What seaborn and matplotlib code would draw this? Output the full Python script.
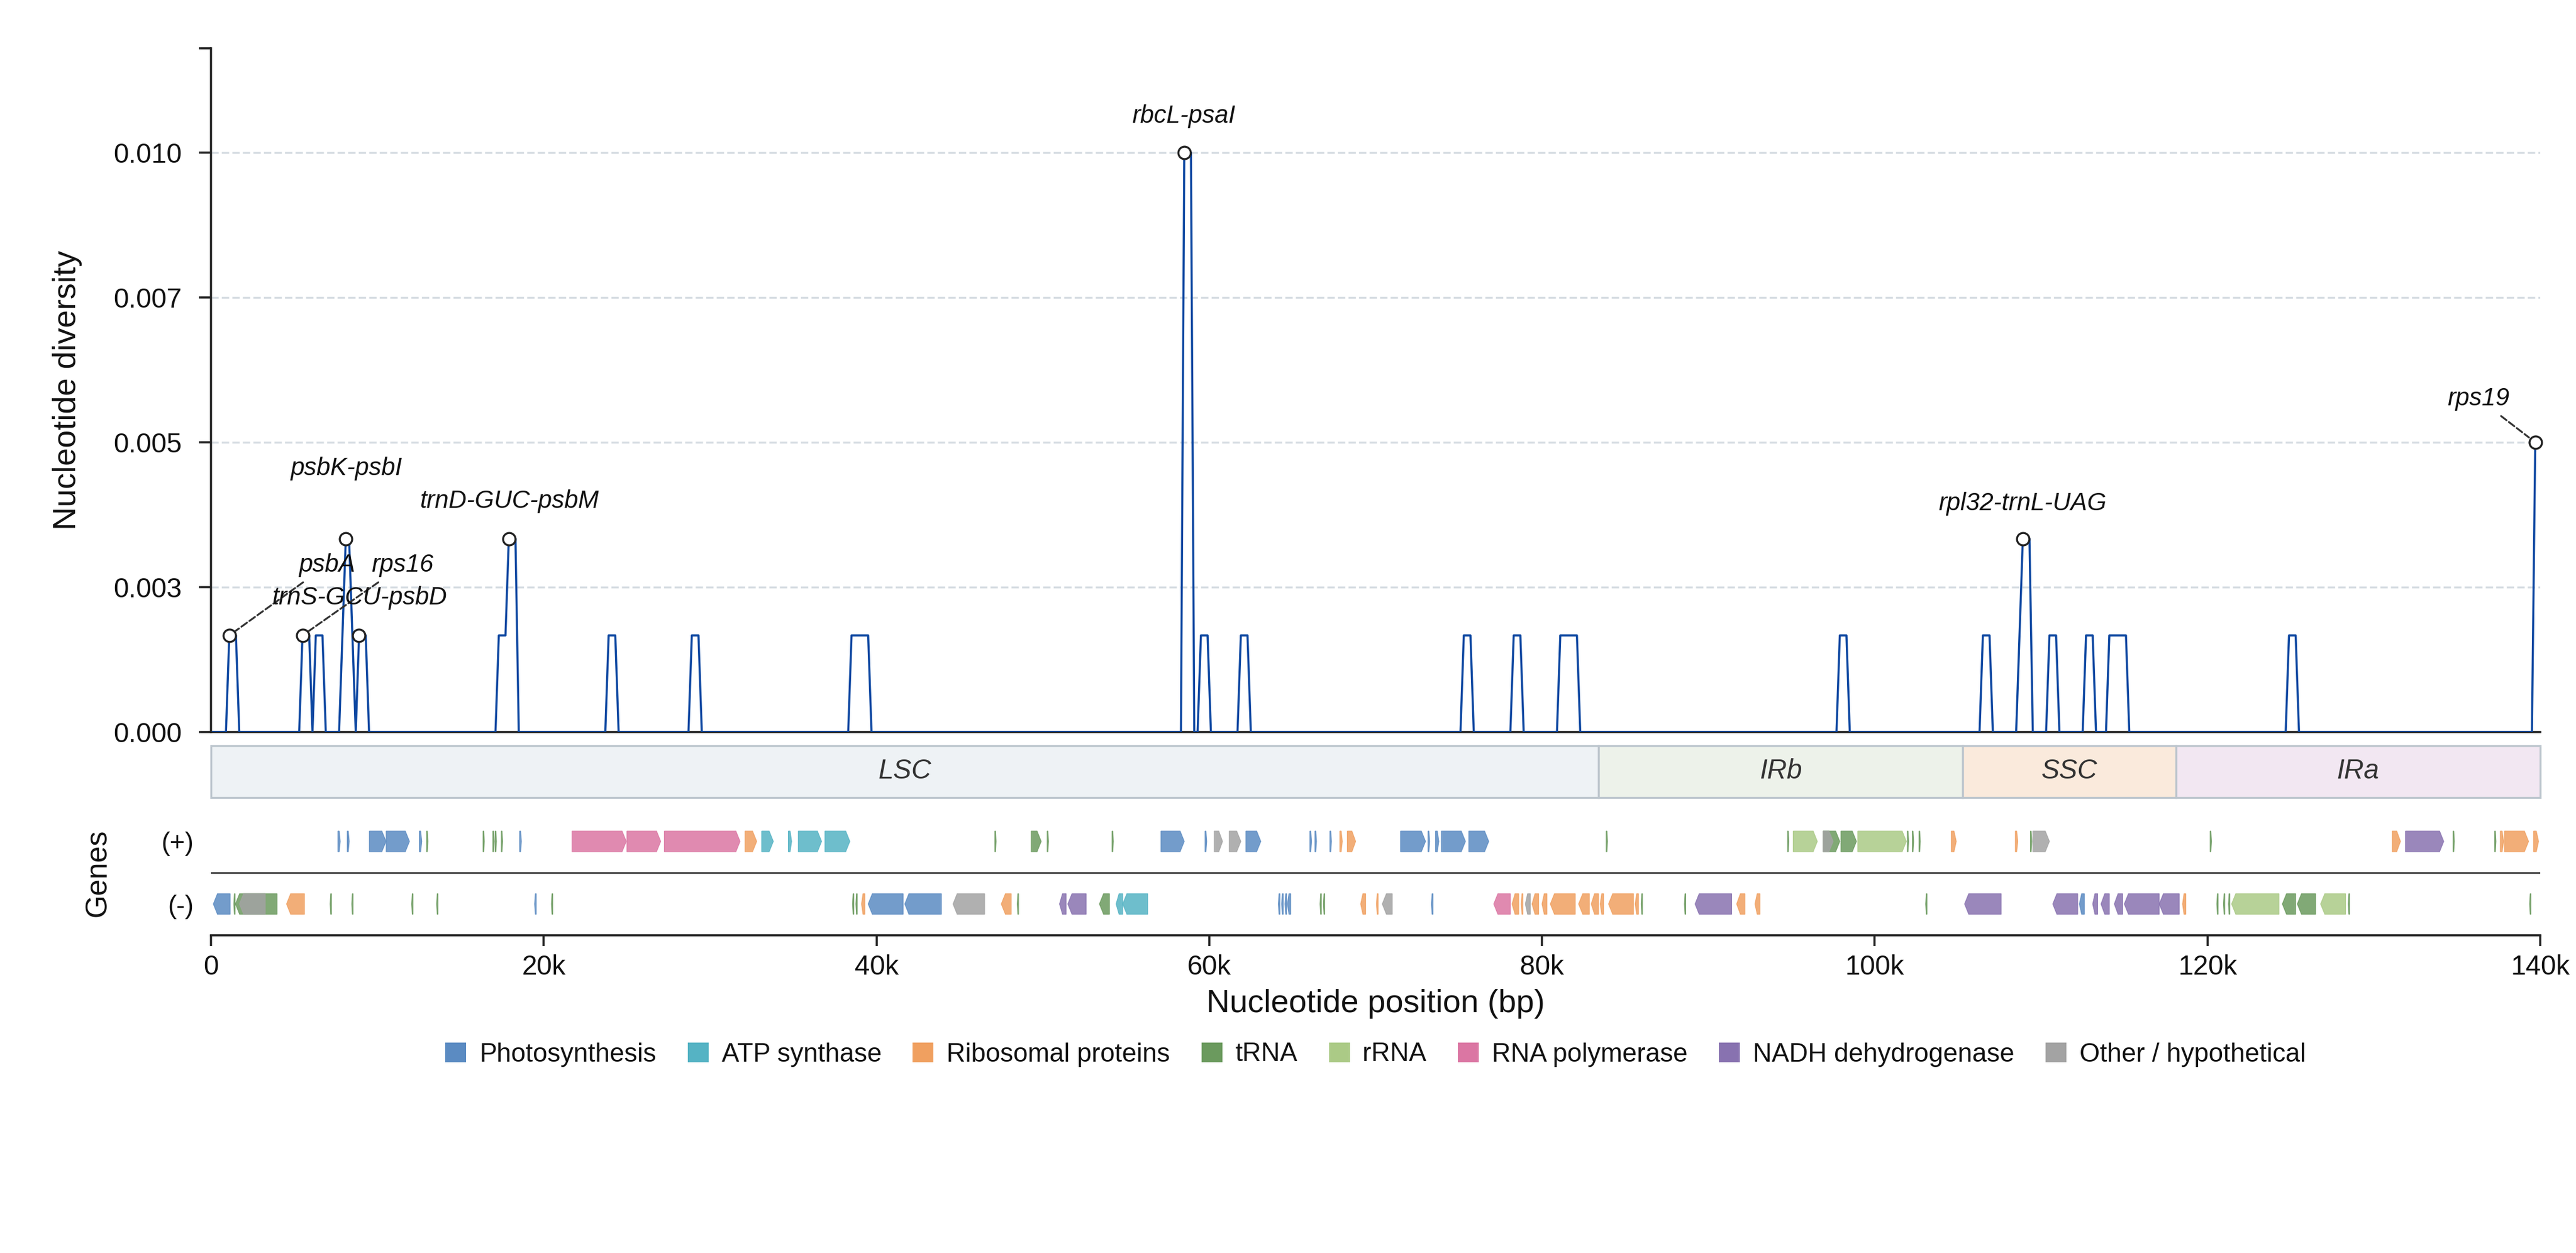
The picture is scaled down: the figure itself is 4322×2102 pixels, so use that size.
import matplotlib
matplotlib.use("Agg")
import numpy as np
import pandas as pd
import matplotlib.pyplot as plt
import seaborn as sns
from matplotlib.patches import Polygon, Rectangle, Patch
from matplotlib.ticker import FuncFormatter

# ---------------- data ----------------
# sliding-window nucleotide diversity (window midpoints in kb)
WIN_POS_KB = [0.1, 0.9, 1.1, 1.3, 1.5, 1.7,
              5.3, 5.5, 5.7, 5.9, 6.1, 6.3, 6.5, 6.7, 6.9,
              7.7, 7.9, 8.1, 8.3, 8.5, 8.7, 8.9, 9.1, 9.3, 9.5,
              17.1, 17.3, 17.5, 17.7, 17.9, 18.1, 18.3, 18.5,
              23.7, 23.9, 24.1, 24.3, 24.5,
              28.7, 28.9, 29.1, 29.3, 29.5,
              38.3, 38.5, 38.7, 38.9, 39.1, 39.3, 39.5, 39.7,
              58.3, 58.5, 58.7, 58.9, 59.1,
              59.3, 59.5, 59.7, 59.9, 60.1,
              61.7, 61.9, 62.1, 62.3, 62.5,
              75.1, 75.3, 75.5, 75.7, 75.9,
              78.1, 78.3, 78.5, 78.7, 78.9,
              80.9, 81.1, 81.3, 81.5, 81.7, 81.9, 82.1, 82.3,
              97.7, 97.9, 98.1, 98.3, 98.5,
              106.3, 106.5, 106.7, 106.9, 107.1,
              108.5, 108.7, 108.9, 109.1, 109.3, 109.5,
              110.3, 110.5, 110.7, 110.9, 111.1,
              112.5, 112.7, 112.9, 113.1, 113.3,
              113.9, 114.1, 114.3, 114.5, 114.7, 114.9, 115.1, 115.3,
              124.7, 124.9, 125.1, 125.3, 125.5,
              139.5, 139.7]
WIN_PI = [0, 0, 0.001667, 0.001667, 0.001667, 0,
          0, 0.001667, 0.001667, 0.001667, 0, 0.001667, 0.001667, 0.001667, 0,
          0, 0.001667, 0.003333, 0.003333, 0.001667, 0, 0.001667, 0.001667, 0.001667, 0,
          0, 0.001667, 0.001667, 0.001667, 0.003333, 0.003333, 0.003333, 0,
          0, 0.001667, 0.001667, 0.001667, 0,
          0, 0.001667, 0.001667, 0.001667, 0,
          0, 0.001667, 0.001667, 0.001667, 0.001667, 0.001667, 0.001667, 0,
          0, 0.010, 0.010, 0.010, 0,
          0, 0.001667, 0.001667, 0.001667, 0,
          0, 0.001667, 0.001667, 0.001667, 0,
          0, 0.001667, 0.001667, 0.001667, 0,
          0, 0.001667, 0.001667, 0.001667, 0,
          0, 0.001667, 0.001667, 0.001667, 0.001667, 0.001667, 0.001667, 0,
          0, 0.001667, 0.001667, 0.001667, 0,
          0, 0.001667, 0.001667, 0.001667, 0,
          0, 0.001667, 0.003333, 0.003333, 0.003333, 0,
          0, 0.001667, 0.001667, 0.001667, 0,
          0, 0.001667, 0.001667, 0.001667, 0,
          0, 0.001667, 0.001667, 0.001667, 0.001667, 0.001667, 0.001667, 0,
          0, 0.001667, 0.001667, 0.001667, 0,
          0, 0.005]

# labelled hotspots
HOT_LABELS = ["psbA", "rps16", "psbK-psbI", "trnS-GCU-psbD", "trnD-GUC-psbM",
              "rbcL-psaI", "rpl32-trnL-UAG", "rps19"]
HOT_POS_KB = [1.1, 5.5, 8.1, 8.9, 17.9, 58.5, 108.9, 139.7]
HOT_PI = [0.001667, 0.001667, 0.003333, 0.001667, 0.003333, 0.010, 0.003333, 0.005]
HOT_TEXT_X_KB = [6.97, 11.53, 8.12, 8.92, 17.92, 58.48, 108.87, 136.3]
HOT_TEXT_Y = [0.00288, 0.00288, 0.00455, 0.00231, 0.00398, 0.01063, 0.00394, 0.00575]
HOT_LEADER = [True, True, False, False, False, False, False, True]

# genome regions
REGION_NAMES = ["LSC", "IRb", "SSC", "IRa"]
REGION_START_KB = [0.0, 83.4, 105.3, 118.1]
REGION_END_KB = [83.4, 105.3, 118.1, 140.0]
REGION_COLORS = ["#eef2f5", "#edf2ea", "#faeadc", "#f2e7f2"]

# gene functional groups
GROUP_CODES = ["PS", "ATP", "RIB", "TRNA", "RRNA", "RPO", "NDH", "OTH"]
GROUP_LABELS = ["Photosynthesis", "ATP synthase", "Ribosomal proteins", "tRNA", "rRNA",
                "RNA polymerase", "NADH dehydrogenase", "Other / hypothetical"]
GROUP_COLORS = ["#5b8bc2", "#55b3c4", "#f0a060", "#6b9a5e", "#abca86",
                "#db76a3", "#8872b0", "#a3a3a3"]

# genes on (+) strand
PLUS_START_KB = [7.63, 8.19, 9.52, 10.53, 12.52, 12.96, 16.35, 16.94, 17.08, 17.45,
                 18.55, 21.70, 25.00, 27.25, 32.10, 33.10, 34.70, 35.30, 36.90,
                 47.11, 49.30, 50.26, 54.16, 57.10, 59.75, 60.30, 61.20, 62.20,
                 66.05, 66.35, 67.25, 67.85, 68.30, 71.50, 73.15, 73.60, 73.95, 75.60,
                 83.86, 94.76, 95.10, 96.90, 96.90, 97.97, 98.98, 101.96, 102.26, 102.66,
                 104.60, 108.45, 109.36, 109.50, 120.16, 131.10, 131.90, 134.76,
                 137.26, 137.60, 137.85, 139.60]
PLUS_END_KB = [7.77, 8.31, 10.52, 11.93, 12.67, 13.04, 16.43, 17.02, 17.16, 17.53,
               18.66, 24.96, 27.03, 31.80, 32.80, 33.80, 34.90, 36.70, 38.40,
               47.19, 49.90, 50.34, 54.24, 58.50, 59.85, 60.80, 61.90, 63.10,
               66.15, 66.45, 67.35, 68.00, 68.80, 73.00, 73.25, 73.80, 75.40, 76.80,
               83.94, 94.84, 96.55, 97.90, 97.50, 98.90, 101.90, 102.04, 102.34, 102.74,
               104.90, 108.60, 109.44, 110.50, 120.24, 131.60, 134.20, 134.84,
               137.34, 137.80, 139.30, 139.90]
PLUS_GROUP = ["PS", "PS", "PS", "PS", "PS", "TRNA", "TRNA", "TRNA", "TRNA", "TRNA",
              "PS", "RPO", "RPO", "RPO", "RIB", "ATP", "ATP", "ATP", "ATP",
              "TRNA", "TRNA", "TRNA", "TRNA", "PS", "PS", "OTH", "OTH", "PS",
              "PS", "PS", "PS", "RIB", "RIB", "PS", "PS", "PS", "PS", "PS",
              "TRNA", "TRNA", "RRNA", "TRNA", "OTH", "TRNA", "RRNA", "TRNA", "TRNA", "TRNA",
              "RIB", "RIB", "TRNA", "OTH", "TRNA", "RIB", "NDH", "TRNA",
              "TRNA", "RIB", "RIB", "RIB"]

# genes on (-) strand
MINUS_START_KB = [0.14, 1.37, 1.47, 1.71, 4.54, 7.16, 8.46, 12.06, 13.56, 19.45, 20.46,
                  38.56, 38.76, 39.10, 39.50, 41.70, 44.60, 47.50, 48.46, 51.00, 51.50,
                  53.40, 54.40, 54.80, 64.15, 64.35, 64.55, 64.70, 66.66, 66.86,
                  69.10, 70.05, 70.40, 73.35, 77.10, 78.20, 78.75, 79.00, 79.40, 80.00,
                  80.50, 82.20, 82.96, 83.50, 84.00, 85.60, 85.96, 88.56, 89.20, 91.70,
                  92.80, 103.06, 105.40, 110.70, 112.30, 113.10, 113.60, 114.40, 115.00,
                  117.10, 118.50, 120.56, 120.96, 121.26, 121.45, 124.50, 125.40, 126.80,
                  128.46, 139.36]
MINUS_END_KB = [1.15, 1.45, 3.97, 3.26, 5.62, 7.24, 8.54, 12.14, 13.64, 19.55, 20.54,
                38.64, 38.84, 39.30, 41.60, 43.90, 46.50, 48.10, 48.54, 51.40, 52.60,
                54.00, 54.80, 56.30, 64.25, 64.45, 64.65, 64.90, 66.74, 66.94,
                69.40, 70.15, 71.00, 73.45, 78.10, 78.60, 78.85, 79.30, 79.80, 80.30,
                82.00, 82.85, 83.40, 83.70, 85.50, 85.80, 86.04, 88.64, 91.40, 92.20,
                93.10, 103.14, 107.60, 112.20, 112.60, 113.40, 114.10, 114.90, 117.10,
                118.30, 118.70, 120.64, 121.04, 121.34, 124.30, 125.30, 126.50, 128.30,
                128.54, 139.44]
MINUS_GROUP = ["PS", "TRNA", "TRNA", "OTH", "RIB", "TRNA", "TRNA", "TRNA", "TRNA", "PS", "TRNA",
               "TRNA", "TRNA", "RIB", "PS", "PS", "OTH", "RIB", "TRNA", "NDH", "NDH",
               "TRNA", "ATP", "ATP", "PS", "PS", "PS", "PS", "TRNA", "TRNA",
               "RIB", "RIB", "OTH", "PS", "RPO", "RIB", "RIB", "OTH", "RIB", "RIB",
               "RIB", "RIB", "RIB", "RIB", "RIB", "RIB", "TRNA", "TRNA", "NDH", "RIB",
               "RIB", "TRNA", "NDH", "NDH", "PS", "NDH", "NDH", "NDH", "NDH",
               "NDH", "RIB", "TRNA", "TRNA", "TRNA", "RRNA", "TRNA", "TRNA", "RRNA",
               "TRNA", "TRNA"]

X_TICKS_KB = [0, 20, 40, 60, 80, 100, 120, 140]
Y_TICKS = [0.0, 0.0025, 0.005, 0.0075, 0.010]

# ---------------- style ----------------
sns.set_theme(style="ticks")
plt.rcParams["font.family"] = ["Liberation Sans", "DejaVu Sans"]
plt.rcParams["text.color"] = "#111111"
plt.rcParams["axes.labelcolor"] = "#111111"
plt.rcParams["xtick.color"] = "#222222"
plt.rcParams["ytick.color"] = "#222222"
plt.rcParams["xtick.labelcolor"] = "#111111"
plt.rcParams["ytick.labelcolor"] = "#111111"

LINE_COLOR = "#0d47a1"
SPINE_COLOR = "#222222"
XMAX = 140000
YMAX = 0.0118

fig = plt.figure(figsize=(4322 / 300, 2102 / 300), dpi=300)
FW, FH = 4322.0, 2102.0
left = 354 / FW
width = (4262 - 354) / FW
ax = fig.add_axes([left, 1 - 1228 / FH, width, (1228 - 81) / FH])
ax_r = fig.add_axes([left, 1 - 1338 / FH, width, (1338 - 1251) / FH])
ax_g = fig.add_axes([left, 1 - 1569 / FH, width, (1569 - 1359) / FH])

# ---- diversity line ----
df = pd.DataFrame({"pos": np.array(WIN_POS_KB) * 1000.0, "pi": WIN_PI})
sns.lineplot(data=df, x="pos", y="pi", ax=ax, color=LINE_COLOR, linewidth=0.85,
             estimator=None, sort=False, legend=False, zorder=3)
ax.set_xlim(0, XMAX)
ax.set_ylim(0, YMAX)
ax.set_yticks(Y_TICKS)
ax.yaxis.set_major_formatter(FuncFormatter(lambda v, p: f"{v:.3f}"))
ax.set_yticks([YMAX], minor=True)
ax.tick_params(axis="y", which="both", length=4.8, width=0.85, pad=7, labelsize=11)
ax.tick_params(axis="x", which="both", bottom=False, labelbottom=False)
ax.set_xlabel("")
ax.set_ylabel("Nucleotide diversity", fontsize=13)
ax.yaxis.set_label_coords(-0.0553, 0.5)
ax.set_axisbelow(True)
ax.grid(axis="y", linestyle="--", color="#d6dce2", linewidth=0.8)
ax.grid(axis="x", visible=False)
sns.despine(ax=ax)
for s in ["left", "bottom"]:
    ax.spines[s].set_color(SPINE_COLOR)
    ax.spines[s].set_linewidth(0.85)

for lab, px, py, tx, ty, lead in zip(HOT_LABELS, HOT_POS_KB, HOT_PI,
                                     HOT_TEXT_X_KB, HOT_TEXT_Y, HOT_LEADER):
    ax.plot([px * 1000.0], [py], marker="o", ms=5, mfc="white", mec="#222222",
            mew=0.8, ls="none", zorder=5, clip_on=False)
    arrow = dict(arrowstyle="-", color="#333333", lw=0.75, linestyle="--",
                 shrinkA=0, shrinkB=3.2) if lead else None
    ax.annotate(lab, xy=(px * 1000.0, py), xytext=(tx * 1000.0, ty),
                textcoords="data", ha="center", va="center", fontsize=10,
                fontstyle="italic", color="#111111", arrowprops=arrow, zorder=6)

# ---- region bar ----
for name, s, e, c in zip(REGION_NAMES, REGION_START_KB, REGION_END_KB, REGION_COLORS):
    ax_r.add_patch(Rectangle((s * 1000.0, 0), (e - s) * 1000.0, 1, facecolor=c,
                             edgecolor="#bcc5cd", linewidth=0.8, clip_on=False))
    ax_r.text((s + e) / 2 * 1000.0, 0.5, name, ha="center", va="center",
              fontsize=11, fontstyle="italic", color="#333333")
ax_r.set_xlim(0, XMAX)
ax_r.set_ylim(0, 1)
ax_r.axis("off")

# ---- gene track ----
color_of = dict(zip(GROUP_CODES, GROUP_COLORS))
HALF_H = 0.165
HEAD_BP = 250.0


def gene_points(x0, x1, strand, yc):
    head = min(HEAD_BP, 0.45 * (x1 - x0))
    if strand > 0:
        return [(x0, yc - HALF_H), (x1 - head, yc - HALF_H), (x1, yc),
                (x1 - head, yc + HALF_H), (x0, yc + HALF_H)]
    return [(x1, yc - HALF_H), (x0 + head, yc - HALF_H), (x0, yc),
            (x0 + head, yc + HALF_H), (x1, yc + HALF_H)]


for strand, yc, starts, ends, groups in [(1, 0.5, PLUS_START_KB, PLUS_END_KB, PLUS_GROUP),
                                         (-1, -0.5, MINUS_START_KB, MINUS_END_KB, MINUS_GROUP)]:
    for s, e, g in zip(starts, ends, groups):
        col = color_of[g]
        ax_g.add_patch(Polygon(gene_points(s * 1000.0, e * 1000.0, strand, yc), closed=True,
                               facecolor=col, edgecolor=col, linewidth=0.3, alpha=0.85,
                               zorder=3))

ax_g.set_xlim(0, XMAX)
ax_g.set_ylim(-1, 1)
ax_g.axhline(0, color="#333333", linewidth=0.65, zorder=2)
sns.despine(ax=ax_g, left=True)
ax_g.spines["bottom"].set_color(SPINE_COLOR)
ax_g.spines["bottom"].set_linewidth(0.85)
ax_g.set_yticks([0.5, -0.5])
ax_g.set_yticklabels(["(+)", "(-)"])
ax_g.tick_params(axis="y", length=0, pad=7, labelsize=10.5)
ax_g.set_xticks([k * 1000 for k in X_TICKS_KB])
ax_g.xaxis.set_major_formatter(FuncFormatter(lambda v, p: "0" if v == 0 else f"{int(round(v / 1000))}k"))
ax_g.tick_params(axis="x", length=4.2, width=0.85, pad=3.5, labelsize=11)
ax_g.set_xlabel("Nucleotide position (bp)", fontsize=13)
ax_g.xaxis.set_label_coords(0.5, -0.4286)
ax_g.set_ylabel("Genes", fontsize=12)
ax_g.yaxis.set_label_coords(-0.0425, 0.5)

# ---- legend ----
handles = [Patch(facecolor=c, edgecolor="none") for c in GROUP_COLORS]
fig.legend(handles, GROUP_LABELS, loc="center", bbox_to_anchor=(0.534, 1 - 1769 / FH),
           ncol=8, frameon=False, fontsize=10.5, handlelength=0.8, handleheight=0.8,
           handletextpad=0.5, columnspacing=1.2)

fig.savefig("out.png", dpi=300)
